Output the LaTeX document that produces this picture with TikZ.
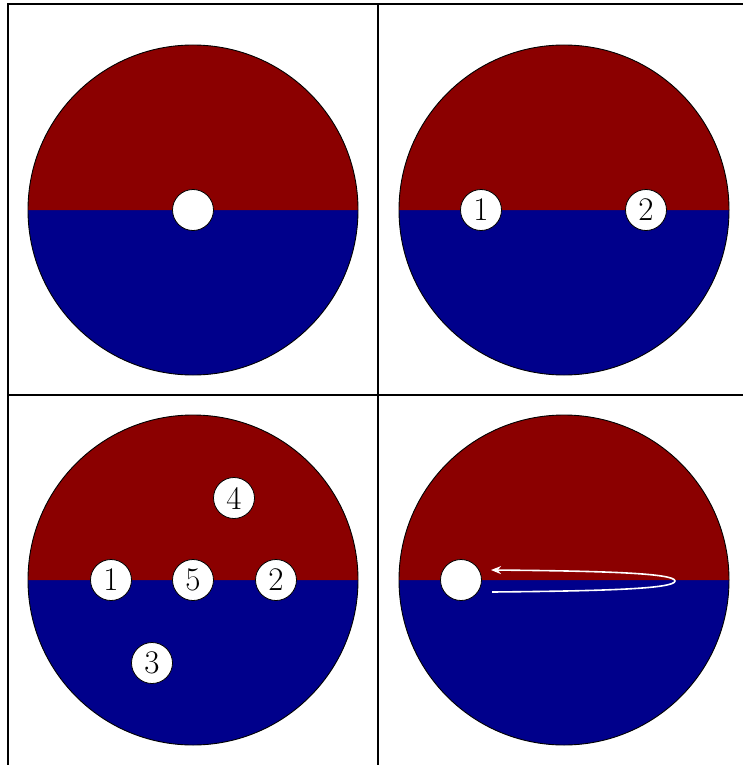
\documentclass[tikz,border=0pt]{standalone}
\usetikzlibrary{arrows.meta,calc}
\definecolor{topred}{RGB}{139,0,0}
\definecolor{botblue}{RGB}{0,0,139}
\tikzset{
  ball/.style={circle,draw=black,fill=white,line width=0.4pt,minimum size=20.5pt,inner sep=0pt,font=\fontsize{16.5}{18}\selectfont},
  gridline/.style={line width=1.4pt,black},
  disk/.style={draw=black,line width=0.45pt},
  flow/.style={white,line width=0.8pt,-{Stealth[length=5pt,width=4pt]}}
}
\newcommand{\halfdisk}[1]{%
  \fill[botblue] ($(#1)+(-165,0)$) arc[start angle=180,end angle=0,radius=165] -- cycle;
  \fill[topred] ($(#1)+(-165,0)$) arc[start angle=-180,end angle=0,radius=165] -- cycle;
  \draw[disk] (#1) circle[radius=165];}
\begin{document}
\begin{tikzpicture}[x=0.5pt,y=-0.5pt]
\useasboundingbox (0,0) rectangle (743,765);
\begin{scope}
\clip (0,0) rectangle (743,765);
\draw[gridline] (8,4) rectangle (748,766);
\draw[gridline] (378,4) -- (378,766);
\draw[gridline] (8,395) -- (748,395);
\end{scope}
\coordinate (c1) at (193,210);
\coordinate (c2) at (564,210);
\coordinate (c3) at (193,580);
\coordinate (c4) at (564,580);
\halfdisk{c1}
\halfdisk{c2}
\halfdisk{c3}
\halfdisk{c4}
% panel 1
\node[ball] (a0) at (c1) {};
% panel 2
\node[ball] (b1) at (481,210) {1};
\node[ball] (b2) at (646,210) {2};
% panel 3
\node[ball] (d1) at (111,580) {1};
\node[ball] (d5) at (193,580) {5};
\node[ball] (d2) at (276,580) {2};
\node[ball] (d4) at (234,498) {4};
\node[ball] (d3) at (152,663) {3};
% panel 4
\node[ball] (e0) at (461,580) {};
\coordinate (fstart) at (492,592);
\coordinate (fturn) at (675,581);
\coordinate (fend) at (491,570);
\draw[flow] (fstart) .. controls (600,591) and (675,589) .. (fturn)
  .. controls (675,573) and (600,571) .. (fend);
\end{tikzpicture}
\end{document}
